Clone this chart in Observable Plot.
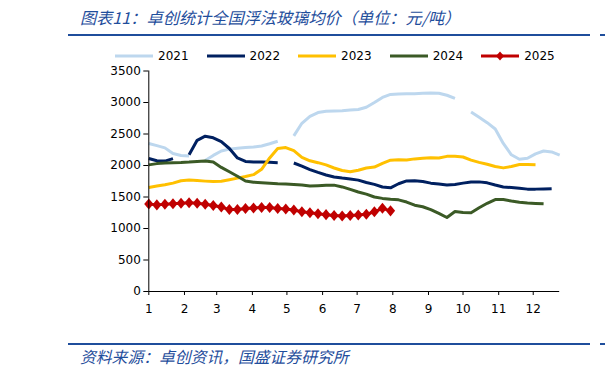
<!DOCTYPE html>
<html><head><meta charset="utf-8">
<script src="https://cdn.jsdelivr.net/npm/d3@7"></script>
<script src="https://cdn.jsdelivr.net/npm/@observablehq/plot@0.6"></script>
<style>
body{margin:0;background:#fff;}
#wrap{position:relative;width:605px;height:375px;overflow:hidden;background:#fff;font-family:"DejaVu Sans",sans-serif;}
.title,.caption{position:absolute;left:80px;font-family:"Noto Sans CJK SC",sans-serif;font-style:italic;color:#1f4e9c;white-space:nowrap;}
.title{top:5px;font-size:16.2px;}
.caption{top:345px;font-size:15.8px;}
.rule{position:absolute;height:2px;background:#1f4e9c;}
#legend{position:absolute;left:115px;top:49px;display:flex;align-items:center;font-size:12px;color:#000;z-index:2;}
#legend .item{display:flex;align-items:center;margin-right:18px;}
#legend svg{margin-right:5px;}
#chart{position:absolute;left:0;top:60px;z-index:1;}
</style></head>
<body>
<div id="wrap">
  <div class="title">图表11：卓创统计全国浮法玻璃均价（单位：元/吨）</div>
  <div class="rule" style="left:68px;width:522px;top:34px;"></div>
  <div class="rule" style="left:600px;width:5px;top:34px;"></div>
  <div id="legend"></div>
  <div id="chart"></div>
  <div class="rule" style="left:68px;width:522px;top:343px;"></div>
  <div class="rule" style="left:600px;width:5px;top:343px;"></div>
  <div class="caption">资料来源：卓创资讯，国盛证券研究所</div>
</div>
<script>
// ---- data (weekly averages, 元/吨; null = holiday gap) ----
const years = ["2021", "2022", "2023", "2024", "2025"];
const colors = ["#bdd7ee", "#002060", "#ffc000", "#3b5a26", "#c00000"];
const monthStartDays = [0, 31, 59, 90, 120, 151, 181, 212, 243, 273, 304, 334];
const monthLabels = ["1", "2", "3", "4", "5", "6", "7", "8", "9", "10", "11", "12"];
const yTicks = [0, 500, 1000, 1500, 2000, 2500, 3000, 3500];

const p2021 = [2350, 2315, 2280, 2190, 2160, 2150, null, 2080, 2160, 2230, 2260, 2275, 2285, 2293, 2310, 2345, 2385, null,
  2470, 2670, 2780, 2840, 2860, 2865, 2870, 2880, 2890, 2925, 3000, 3080, 3128, 3135, 3138, 3140, 3145, 3150, 3148, 3115,
  3065, null, 2850, 2765, 2680, 2580, 2350, 2170, 2100, 2115, 2185, 2230, 2215, 2165];
const p2022 = [2110, 2075, 2070, 2110, null, 2170, 2400, 2465, 2440, 2380, 2270, 2120, 2065, 2055, 2055, 2050, 2045, null,
  2040, 1990, 1935, 1890, 1850, 1818, 1800, 1785, 1768, 1730, 1700, 1658, 1645, 1710, 1755, 1758, 1745, 1720, 1705, 1690,
  1700, 1720, 1738, 1740, 1725, 1690, 1660, 1650, 1640, 1625, 1625, 1628, 1632];
const p2023 = [1650, 1675, 1695, 1720, 1758, 1768, 1760, 1752, 1745, 1750, 1775, 1800, 1825, 1855, 1940, 2120, 2270, 2285,
  2235, 2130, 2075, 2045, 2010, 1960, 1920, 1900, 1925, 1960, 1975, 2035, 2085, 2090, 2087, 2105, 2115, 2122, 2118, 2145,
  2145, 2135, 2085, 2050, 2020, 1985, 1962, 1985, 2015, 2015, 2012];
const p2024 = [2010, 2030, 2040, 2045, 2048, 2055, 2065, 2070, 2055, 1970, 1900, 1830, 1755, 1735, 1728, 1720, 1710, 1705,
  1700, 1690, 1676, 1680, 1685, 1688, 1660, 1620, 1580, 1545, 1500, 1478, 1465, 1455, 1420, 1370, 1345, 1300, 1240, 1175,
  1270, 1255, 1250, 1330, 1400, 1460, 1460, 1435, 1415, 1405, 1398, 1393];
const p2025 = [1390, 1375, 1385, 1393, 1400, 1408, 1400, 1385, 1365, 1340, 1300, 1300, 1318, 1325, 1333, 1333, 1318, 1310,
  1292, 1266, 1250, 1235, 1220, 1205, 1198, 1208, 1213, 1225, 1265, 1320, 1280];

const seriesList = [p2021, p2022, p2023, p2024, p2025];
const rows = [];
seriesList.forEach((arr, k) => arr.forEach((v, i) => rows.push({year: years[k], week: i, value: v == null ? NaN : v})));
const rows2025 = rows.filter(d => d.year === "2025");

const diamond = {
  draw(ctx, size) {
    const s = Math.sqrt(size / Math.PI);
    ctx.moveTo(0, -s * 1.2); ctx.lineTo(s, 0); ctx.lineTo(0, s * 1.2); ctx.lineTo(-s, 0); ctx.closePath();
  }
};

const W = 605, H = 262;
const plotLeft = 148.3, plotRight = 559.2, plotTop = 10.5, plotBottom = 231;
const chart = Plot.plot({
  width: W, height: H,
  marginLeft: plotLeft, marginRight: W - plotRight, marginTop: plotTop, marginBottom: H - plotBottom,
  style: {fontFamily: "DejaVu Sans", fontSize: "12px", color: "#000", background: "transparent", overflow: "visible"},
  x: {type: "linear", domain: [0, 51]},
  y: {domain: [0, 3500]},
  color: {domain: years, range: colors},
  marks: [
    Plot.line(rows, {x: "week", y: "value", z: "year", stroke: "year", strokeWidth: 3, strokeLinejoin: "round", strokeLinecap: "butt"}),
    Plot.dot(rows2025, {x: "week", y: "value", fill: "#c00000", stroke: "none", symbol: diamond, r: 4.6}),
    Plot.axisY({ticks: yTicks, tickFormat: d => String(d), tickSize: 5, tickPadding: 3, label: null}),
    Plot.axisX({ticks: monthStartDays.map(d => d / 7), tickFormat: (d, i) => monthLabels[i], tickSize: 4, tickPadding: 9, label: null}),
    Plot.ruleX([0], {stroke: "#000", strokeWidth: 1}),
    Plot.ruleY([0], {stroke: "#000", strokeWidth: 1})
  ]
});
document.getElementById("chart").appendChild(chart);

// legend
const legend = d3.select("#legend");
years.forEach((y, k) => {
  const item = legend.append("div").attr("class", "item");
  const s = item.append("svg").attr("width", 38).attr("height", 12);
  s.append("line").attr("x1", 0).attr("x2", 38).attr("y1", 6).attr("y2", 6)
    .attr("stroke", colors[k]).attr("stroke-width", 3);
  if (y === "2025") {
    s.append("path").attr("d", "M19,1.5L23,6L19,10.5L15,6Z").attr("fill", colors[k]);
  }
  item.append("span").text(y);
});
</script>
</body></html>
